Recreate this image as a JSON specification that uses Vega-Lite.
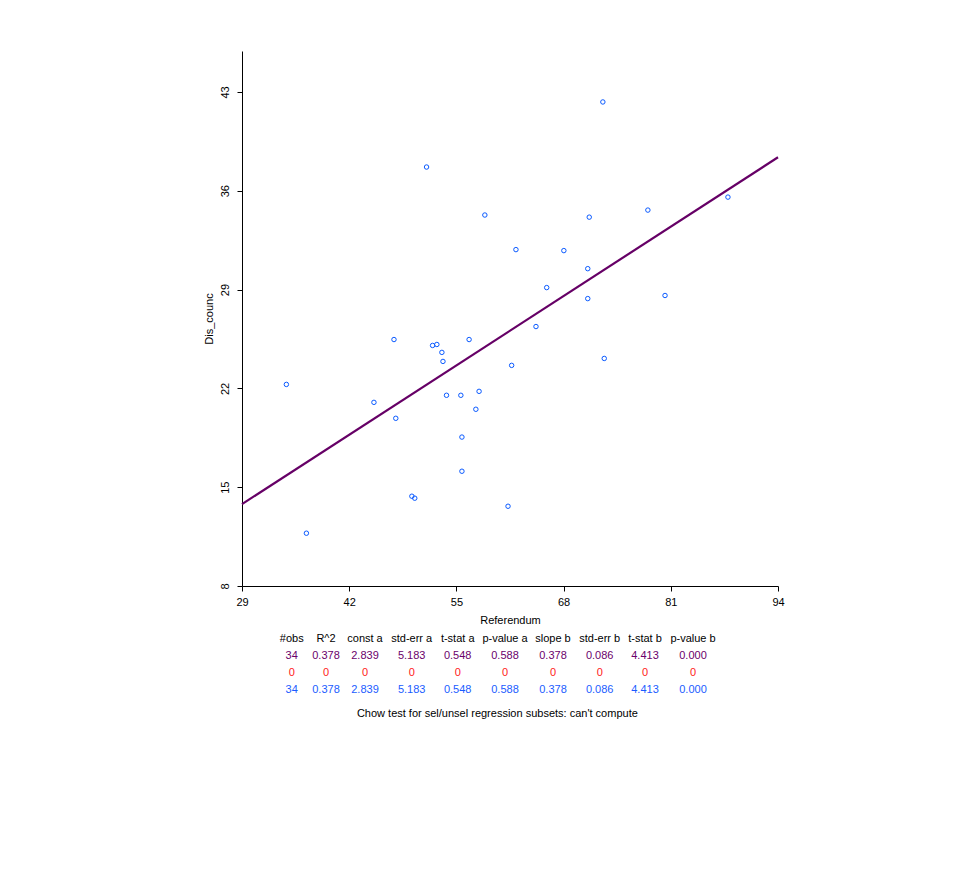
{
  "$schema": "https://vega.github.io/schema/vega-lite/v6.json",
  "background": "white",
  "padding": {"left": 203, "top": 51, "right": 5, "bottom": 5},
  "width": 536,
  "height": 535,
  "config": {
    "view": {"stroke": null},
    "font": "Liberation Sans",
    "axis": {
      "grid": false,
      "domainColor": "#000000",
      "tickColor": "#000000",
      "labelColor": "#000000",
      "titleColor": "#000000",
      "labelFont": "Liberation Sans",
      "titleFont": "Liberation Sans",
      "labelFontSize": 11,
      "titleFontSize": 11,
      "titleFontWeight": "normal",
      "tickSize": 5,
      "labelFlush": false,
      "labelOverlap": false
    }
  },
  "datasets": {
    "points": [
      {"Referendum": 51.38, "Dis_counc": 37.68},
      {"Referendum": 58.45, "Dis_counc": 34.28},
      {"Referendum": 71.11, "Dis_counc": 34.13},
      {"Referendum": 72.76, "Dis_counc": 42.29},
      {"Referendum": 78.22, "Dis_counc": 34.63},
      {"Referendum": 87.93, "Dis_counc": 35.55},
      {"Referendum": 34.38, "Dis_counc": 22.28},
      {"Referendum": 45.0, "Dis_counc": 21.01},
      {"Referendum": 47.43, "Dis_counc": 25.46},
      {"Referendum": 47.65, "Dis_counc": 19.88},
      {"Referendum": 52.11, "Dis_counc": 25.04},
      {"Referendum": 52.63, "Dis_counc": 25.11},
      {"Referendum": 53.24, "Dis_counc": 24.55},
      {"Referendum": 53.37, "Dis_counc": 23.91},
      {"Referendum": 53.8, "Dis_counc": 21.51},
      {"Referendum": 55.54, "Dis_counc": 21.51},
      {"Referendum": 56.54, "Dis_counc": 25.46},
      {"Referendum": 57.36, "Dis_counc": 20.52},
      {"Referendum": 57.75, "Dis_counc": 21.79},
      {"Referendum": 61.7, "Dis_counc": 23.63},
      {"Referendum": 62.22, "Dis_counc": 31.83},
      {"Referendum": 64.65, "Dis_counc": 26.38},
      {"Referendum": 65.95, "Dis_counc": 29.14},
      {"Referendum": 68.03, "Dis_counc": 31.76},
      {"Referendum": 70.93, "Dis_counc": 30.48},
      {"Referendum": 70.93, "Dis_counc": 28.36},
      {"Referendum": 72.93, "Dis_counc": 24.12},
      {"Referendum": 80.3, "Dis_counc": 28.58},
      {"Referendum": 55.67, "Dis_counc": 18.55},
      {"Referendum": 55.67, "Dis_counc": 16.13},
      {"Referendum": 49.6, "Dis_counc": 14.36},
      {"Referendum": 49.95, "Dis_counc": 14.22},
      {"Referendum": 61.26, "Dis_counc": 13.65},
      {"Referendum": 36.81, "Dis_counc": 11.74}
    ],
    "fit": [
      {"Referendum": 29, "Dis_counc": 13.801},
      {"Referendum": 94, "Dis_counc": 38.371}
    ],
    "table": [
      {"row": 0, "col": 0, "text": "#obs", "series": "header"},
      {"row": 0, "col": 1, "text": "R^2", "series": "header"},
      {"row": 0, "col": 2, "text": "const a", "series": "header"},
      {"row": 0, "col": 3, "text": "std-err a", "series": "header"},
      {"row": 0, "col": 4, "text": "t-stat a", "series": "header"},
      {"row": 0, "col": 5, "text": "p-value a", "series": "header"},
      {"row": 0, "col": 6, "text": "slope b", "series": "header"},
      {"row": 0, "col": 7, "text": "std-err b", "series": "header"},
      {"row": 0, "col": 8, "text": "t-stat b", "series": "header"},
      {"row": 0, "col": 9, "text": "p-value b", "series": "header"},
      {"row": 1, "col": 0, "text": "34", "series": "all"},
      {"row": 1, "col": 1, "text": "0.378", "series": "all"},
      {"row": 1, "col": 2, "text": "2.839", "series": "all"},
      {"row": 1, "col": 3, "text": "5.183", "series": "all"},
      {"row": 1, "col": 4, "text": "0.548", "series": "all"},
      {"row": 1, "col": 5, "text": "0.588", "series": "all"},
      {"row": 1, "col": 6, "text": "0.378", "series": "all"},
      {"row": 1, "col": 7, "text": "0.086", "series": "all"},
      {"row": 1, "col": 8, "text": "4.413", "series": "all"},
      {"row": 1, "col": 9, "text": "0.000", "series": "all"},
      {"row": 2, "col": 0, "text": "0", "series": "sel"},
      {"row": 2, "col": 1, "text": "0", "series": "sel"},
      {"row": 2, "col": 2, "text": "0", "series": "sel"},
      {"row": 2, "col": 3, "text": "0", "series": "sel"},
      {"row": 2, "col": 4, "text": "0", "series": "sel"},
      {"row": 2, "col": 5, "text": "0", "series": "sel"},
      {"row": 2, "col": 6, "text": "0", "series": "sel"},
      {"row": 2, "col": 7, "text": "0", "series": "sel"},
      {"row": 2, "col": 8, "text": "0", "series": "sel"},
      {"row": 2, "col": 9, "text": "0", "series": "sel"},
      {"row": 3, "col": 0, "text": "34", "series": "unsel"},
      {"row": 3, "col": 1, "text": "0.378", "series": "unsel"},
      {"row": 3, "col": 2, "text": "2.839", "series": "unsel"},
      {"row": 3, "col": 3, "text": "5.183", "series": "unsel"},
      {"row": 3, "col": 4, "text": "0.548", "series": "unsel"},
      {"row": 3, "col": 5, "text": "0.588", "series": "unsel"},
      {"row": 3, "col": 6, "text": "0.378", "series": "unsel"},
      {"row": 3, "col": 7, "text": "0.086", "series": "unsel"},
      {"row": 3, "col": 8, "text": "4.413", "series": "unsel"},
      {"row": 3, "col": 9, "text": "0.000", "series": "unsel"},
      {"row": 4, "col": 4.5, "text": "Chow test for sel/unsel regression subsets: can't compute", "series": "note"}
    ]
  },
  "layer": [
    {
      "layer": [
        {
          "data": {"name": "fit"},
          "mark": {"type": "line", "color": "#660066", "strokeWidth": 2.2},
          "encoding": {
            "x": {"field": "Referendum", "type": "quantitative"},
            "y": {"field": "Dis_counc", "type": "quantitative"}
          }
        },
        {
          "data": {"name": "points"},
          "mark": {"type": "point", "shape": "circle", "filled": false, "color": "#0a5aff", "strokeWidth": 1, "size": 20, "opacity": 1},
          "encoding": {
            "x": {
              "field": "Referendum", "type": "quantitative",
              "scale": {"domain": [29, 94], "nice": false, "zero": false},
              "axis": {"values": [29, 42, 55, 68, 81, 94], "title": "Referendum", "labelPadding": 5, "titlePadding": 7}
            },
            "y": {
              "field": "Dis_counc", "type": "quantitative",
              "scale": {"domain": [8, 45.9], "nice": false, "zero": false},
              "axis": {"values": [8, 15, 22, 29, 36, 43], "title": "Dis_counc", "labelAngle": -90, "labelAlign": "center", "labelBaseline": "bottom", "labelPadding": 7, "titlePadding": 5}
            }
          }
        }
      ]
    },
    {
      "data": {"name": "table"},
      "layer": [
        {
          "transform": [{"filter": "datum.row < 4"}],
          "mark": {"type": "text", "fontSize": 11, "font": "Liberation Sans", "align": "center", "baseline": "middle"},
          "encoding": {
            "x": {"field": "col", "type": "quantitative", "axis": null,
              "scale": {"domain": [0, 1, 2, 3, 4, 5, 6, 7, 8, 9], "range": [49.7, 84, 123, 169.7, 215.7, 263, 311, 357.7, 403, 451], "nice": false, "zero": false}},
            "y": {"field": "row", "type": "quantitative", "axis": null,
              "scale": {"domain": [0, 3, 4], "range": [588, 639, 663], "nice": false, "zero": false}},
            "text": {"field": "text"},
            "color": {"field": "series", "type": "nominal", "legend": null,
              "scale": {"domain": ["header", "all", "sel", "unsel", "note"], "range": ["#000000", "#6b006b", "#ff1a1a", "#1a5cff", "#000000"]}}
          }
        },
        {
          "transform": [{"filter": "datum.row == 4"}],
          "mark": {"type": "text", "fontSize": 11, "font": "Liberation Sans", "align": "center", "baseline": "middle", "dx": 16},
          "encoding": {
            "x": {"field": "col", "type": "quantitative", "axis": null},
            "y": {"field": "row", "type": "quantitative", "axis": null},
            "text": {"field": "text"},
            "color": {"field": "series", "type": "nominal", "legend": null}
          }
        }
      ]
    }
  ],
  "resolve": {"scale": {"x": "independent", "y": "independent", "color": "independent"}}
}
